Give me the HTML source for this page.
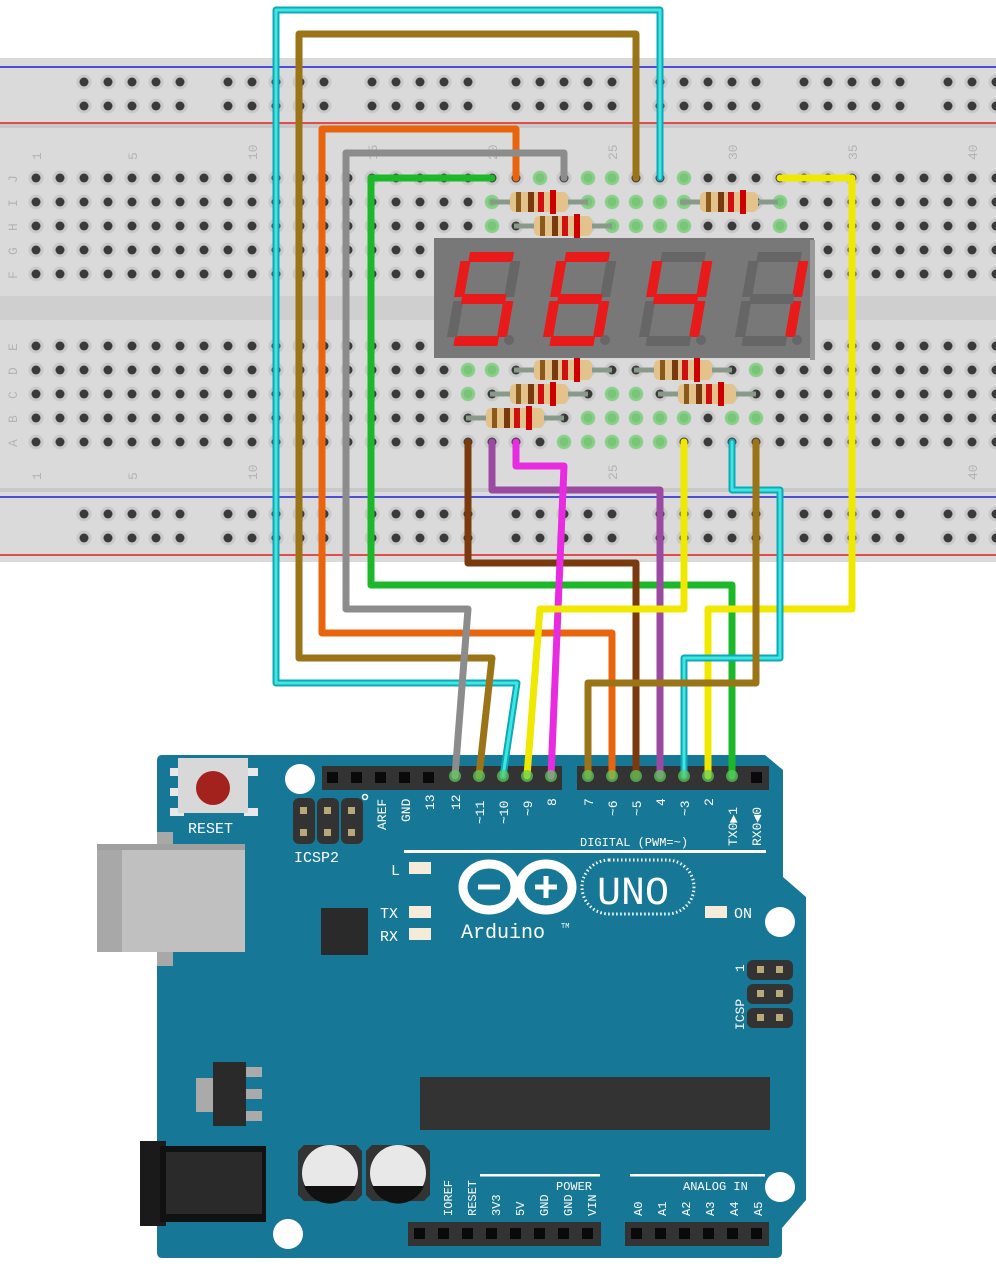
<!DOCTYPE html>
<html><head><meta charset="utf-8"><style>
html,body{margin:0;padding:0;background:#fff;}
svg{display:block;}
text{font-family:"Liberation Mono","DejaVu Sans Mono",monospace;}
</style></head><body>
<svg width="996" height="1280" viewBox="0 0 996 1280" xmlns="http://www.w3.org/2000/svg">
<defs>
<pattern id="mh" x="24" y="166" width="24" height="24" patternUnits="userSpaceOnUse">
<circle cx="12" cy="12" r="7.5" fill="#c9c9c9"/><circle cx="12" cy="12" r="4.5" fill="#3a3a3a"/>
</pattern>
<g id="rg">
<g fill="#c9c9c9"><circle cx="12" cy="12" r="7.5"/><circle cx="36" cy="12" r="7.5"/><circle cx="60" cy="12" r="7.5"/><circle cx="84" cy="12" r="7.5"/><circle cx="108" cy="12" r="7.5"/>
<circle cx="12" cy="36" r="7.5"/><circle cx="36" cy="36" r="7.5"/><circle cx="60" cy="36" r="7.5"/><circle cx="84" cy="36" r="7.5"/><circle cx="108" cy="36" r="7.5"/></g>
<g fill="#3a3a3a"><circle cx="12" cy="12" r="4.5"/><circle cx="36" cy="12" r="4.5"/><circle cx="60" cy="12" r="4.5"/><circle cx="84" cy="12" r="4.5"/><circle cx="108" cy="12" r="4.5"/>
<circle cx="12" cy="36" r="4.5"/><circle cx="36" cy="36" r="4.5"/><circle cx="60" cy="36" r="4.5"/><circle cx="84" cy="36" r="4.5"/><circle cx="108" cy="36" r="4.5"/></g>
</g>
<pattern id="rh" x="72" y="70" width="144" height="48" patternUnits="userSpaceOnUse"><use href="#rg"/></pattern>
<pattern id="rh2" x="72" y="502" width="144" height="48" patternUnits="userSpaceOnUse"><use href="#rg"/></pattern>
<g id="res">
<rect x="0" y="-2.5" width="98" height="5" fill="#8a9a8a"/>
<rect x="20" y="-10" width="58" height="20" rx="5" fill="#e3c28c"/>
<rect x="26" y="-10" width="5" height="20" fill="#8a5a1a"/>
<rect x="38" y="-10" width="6" height="20" fill="#7a3a10"/>
<rect x="48" y="-10" width="6" height="20" fill="#d01010"/>
<rect x="60" y="-12" width="6" height="24" fill="#c00"/>
</g>
</defs>

<rect x="0" y="58" width="996" height="504" fill="#dadada"/>
<rect x="0" y="124" width="996" height="4" fill="#c8c8c8"/>
<rect x="0" y="296" width="996" height="24" fill="#cfcfcf"/>
<rect x="0" y="488" width="996" height="4" fill="#c8c8c8"/>
<line x1="0" y1="67" x2="996" y2="67" stroke="#2020d0" stroke-width="1.5"/>
<line x1="0" y1="123" x2="996" y2="123" stroke="#e02020" stroke-width="1.5"/>
<line x1="0" y1="497" x2="996" y2="497" stroke="#2020d0" stroke-width="1.5"/>
<line x1="0" y1="555" x2="996" y2="555" stroke="#e02020" stroke-width="1.5"/>
<rect x="72" y="70" width="924" height="48" fill="url(#rh)"/>
<rect x="72" y="502" width="924" height="48" fill="url(#rh2)"/>
<rect x="24" y="166" width="972" height="120" fill="url(#mh)"/>
<rect x="24" y="334" width="972" height="120" fill="url(#mh)"/>
<g fill="#b4b4b4" font-size="13" font-family="Liberation Sans,sans-serif">
<text transform="translate(41,160) rotate(-90)">1</text><text transform="translate(137,160) rotate(-90)">5</text>
<text transform="translate(257,160) rotate(-90)">10</text><text transform="translate(377,160) rotate(-90)">15</text>
<text transform="translate(497,160) rotate(-90)">20</text><text transform="translate(617,160) rotate(-90)">25</text>
<text transform="translate(737,160) rotate(-90)">30</text><text transform="translate(857,160) rotate(-90)">35</text>
<text transform="translate(977,160) rotate(-90)">40</text>
<text transform="translate(41,480) rotate(-90)">1</text><text transform="translate(137,480) rotate(-90)">5</text>
<text transform="translate(257,480) rotate(-90)">10</text><text transform="translate(617,480) rotate(-90)">25</text>
<text transform="translate(977,480) rotate(-90)">40</text>
<text transform="translate(17,183) rotate(-90)">J</text><text transform="translate(17,207) rotate(-90)">I</text>
<text transform="translate(17,231) rotate(-90)">H</text><text transform="translate(17,255) rotate(-90)">G</text>
<text transform="translate(17,279) rotate(-90)">F</text><text transform="translate(17,351) rotate(-90)">E</text>
<text transform="translate(17,375) rotate(-90)">D</text><text transform="translate(17,399) rotate(-90)">C</text>
<text transform="translate(17,423) rotate(-90)">B</text><text transform="translate(17,447) rotate(-90)">A</text>
</g>
<g fill="#7fd37f" opacity="0.9">
<circle cx="492" cy="202" r="7"/><circle cx="588" cy="202" r="7"/><circle cx="612" cy="202" r="7"/><circle cx="636" cy="202" r="7"/><circle cx="660" cy="202" r="7"/><circle cx="684" cy="202" r="7"/><circle cx="780" cy="202" r="7"/>
<circle cx="492" cy="226" r="7"/><circle cx="612" cy="226" r="7"/><circle cx="636" cy="226" r="7"/><circle cx="660" cy="226" r="7"/><circle cx="684" cy="226" r="7"/><circle cx="780" cy="226" r="7"/>
<circle cx="468" cy="370" r="7"/><circle cx="492" cy="370" r="7"/><circle cx="756" cy="370" r="7"/>
<circle cx="468" cy="394" r="7"/><circle cx="612" cy="394" r="7"/><circle cx="636" cy="394" r="7"/>
<circle cx="588" cy="418" r="7"/><circle cx="612" cy="418" r="7"/><circle cx="636" cy="418" r="7"/><circle cx="660" cy="418" r="7"/><circle cx="684" cy="418" r="7"/><circle cx="732" cy="418" r="7"/><circle cx="756" cy="418" r="7"/>
<circle cx="564" cy="442" r="7"/><circle cx="588" cy="442" r="7"/><circle cx="612" cy="442" r="7"/><circle cx="636" cy="442" r="7"/><circle cx="660" cy="442" r="7"/>
<circle cx="540" cy="178" r="7"/><circle cx="588" cy="178" r="7"/><circle cx="612" cy="178" r="7"/><circle cx="684" cy="178" r="7"/>
</g>
<use href="#res" x="490" y="202"/><use href="#res" x="680" y="202"/><use href="#res" x="514" y="226"/>
<use href="#res" x="514" y="370"/><use href="#res" x="634" y="370"/>
<use href="#res" x="490" y="394"/><use href="#res" x="658" y="394"/>
<use href="#res" x="466" y="418"/>
<rect x="434" y="238" width="380" height="120" fill="#787878"/>
<rect x="810" y="240" width="5" height="120" fill="#999"/>
<g transform="translate(462,252) skewX(-10)">
<rect x="8" y="0" width="44" height="10" fill="#e81a1a"/><rect x="50" y="9" width="10" height="36" fill="#666"/><rect x="50" y="49" width="10" height="36" fill="#e81a1a"/><rect x="8" y="84" width="44" height="10" fill="#e81a1a"/><rect x="0" y="49" width="10" height="36" fill="#666"/><rect x="0" y="9" width="10" height="36" fill="#e81a1a"/><rect x="8" y="42" width="44" height="10" fill="#e81a1a"/></g>
<g transform="translate(558,252) skewX(-10)">
<rect x="8" y="0" width="44" height="10" fill="#e81a1a"/><rect x="50" y="9" width="10" height="36" fill="#666"/><rect x="50" y="49" width="10" height="36" fill="#e81a1a"/><rect x="8" y="84" width="44" height="10" fill="#e81a1a"/><rect x="0" y="49" width="10" height="36" fill="#e81a1a"/><rect x="0" y="9" width="10" height="36" fill="#e81a1a"/><rect x="8" y="42" width="44" height="10" fill="#e81a1a"/></g>
<g transform="translate(654,252) skewX(-10)">
<rect x="8" y="0" width="44" height="10" fill="#666"/><rect x="50" y="9" width="10" height="36" fill="#e81a1a"/><rect x="50" y="49" width="10" height="36" fill="#e81a1a"/><rect x="8" y="84" width="44" height="10" fill="#666"/><rect x="0" y="49" width="10" height="36" fill="#666"/><rect x="0" y="9" width="10" height="36" fill="#e81a1a"/><rect x="8" y="42" width="44" height="10" fill="#e81a1a"/></g>
<g transform="translate(750,252) skewX(-10)">
<rect x="8" y="0" width="44" height="10" fill="#666"/><rect x="50" y="9" width="10" height="36" fill="#e81a1a"/><rect x="50" y="49" width="10" height="36" fill="#e81a1a"/><rect x="8" y="84" width="44" height="10" fill="#666"/><rect x="0" y="49" width="10" height="36" fill="#666"/><rect x="0" y="9" width="10" height="36" fill="#666"/><rect x="8" y="42" width="44" height="10" fill="#666"/></g>
<g fill="#666"><circle cx="509" cy="340" r="5"/><circle cx="605" cy="340" r="5"/><circle cx="701" cy="340" r="5"/><circle cx="797" cy="340" r="5"/></g>

<path d="M162,755 L765,755 L783,770 L783,877 L806,897 L806,1200 L782,1228 L782,1252 Q782,1258 776,1258 L162,1258 Q157,1258 157,1252 L157,761 Q157,755 162,755 Z" fill="#167896"/>
<rect x="170" y="768" width="14" height="8" fill="#e8e8e8"/><rect x="170" y="788" width="14" height="8" fill="#e8e8e8"/><rect x="170" y="808" width="14" height="8" fill="#e8e8e8"/>
<rect x="244" y="768" width="14" height="8" fill="#e8e8e8"/><rect x="244" y="808" width="14" height="8" fill="#e8e8e8"/>
<rect x="178" y="758" width="70" height="55" fill="#d8d8d8"/>
<circle cx="213" cy="788" r="17" fill="#a3221e"/>
<text x="188" y="833" fill="#fff" font-size="15">RESET</text>
<rect x="157" y="832" width="16" height="14" fill="#a8a8a8"/><rect x="157" y="952" width="16" height="14" fill="#a8a8a8"/>
<rect x="97" y="844" width="148" height="108" fill="#c0c0c0"/>
<rect x="97" y="844" width="25" height="108" fill="#a8a8a8"/>
<rect x="97" y="844" width="148" height="6" fill="#a0a0a0"/>
<g fill="#333"><rect x="293" y="798" width="22" height="46" rx="6"/><rect x="317" y="798" width="22" height="46" rx="6"/><rect x="341" y="798" width="22" height="46" rx="6"/></g>
<g fill="#b8a97a"><rect x="300" y="807" width="7" height="7"/><rect x="324" y="807" width="7" height="7"/><rect x="348" y="807" width="7" height="7"/><rect x="300" y="829" width="7" height="7"/><rect x="324" y="829" width="7" height="7"/><rect x="348" y="829" width="7" height="7"/></g>
<circle cx="365" cy="797" r="2.5" fill="none" stroke="#fff" stroke-width="1.5"/>
<text x="294" y="862" fill="#fff" font-size="15">ICSP2</text>
<g fill="#fff"><circle cx="300" cy="779" r="15"/><circle cx="780" cy="922" r="15"/><circle cx="780" cy="1187" r="15"/><circle cx="288" cy="1234" r="15"/></g>
<rect x="322" y="766" width="240" height="24" fill="#333"/>
<rect x="577" y="766" width="192" height="24" fill="#333"/>
<g fill="#0a0a0a">
<rect x="327" y="772" width="11" height="11"/><rect x="351" y="772" width="11" height="11"/><rect x="375" y="772" width="11" height="11"/><rect x="399" y="772" width="11" height="11"/><rect x="423" y="772" width="11" height="11"/>
<rect x="751" y="772" width="11" height="11"/>
</g>
<g fill="#fff" font-size="13">
<text transform="translate(386,830) rotate(-90)">AREF</text>
<text transform="translate(410,822) rotate(-90)">GND</text>
<text transform="translate(434,810) rotate(-90)">13</text>
<text transform="translate(460,810) rotate(-90)">12</text>
<text transform="translate(484,824) rotate(-90)">~11</text>
<text transform="translate(508,824) rotate(-90)">~10</text>
<text transform="translate(532,816) rotate(-90)">~9</text>
<text transform="translate(556,806) rotate(-90)">8</text>
<text transform="translate(593,806) rotate(-90)">7</text>
<text transform="translate(617,816) rotate(-90)">~6</text>
<text transform="translate(641,816) rotate(-90)">~5</text>
<text transform="translate(665,806) rotate(-90)">4</text>
<text transform="translate(689,816) rotate(-90)">~3</text>
<text transform="translate(713,806) rotate(-90)">2</text>
<text transform="translate(737,846) rotate(-90)">TX0▶1</text>
<text transform="translate(761,846) rotate(-90)">RX0◀0</text>
<text x="580" y="846" font-size="12">DIGITAL (PWM=~)</text>
</g>
<rect x="404" y="850" width="362" height="3" fill="#fff"/>
<g fill="#f4ecd8"><rect x="409" y="862" width="22" height="12"/><rect x="409" y="906" width="22" height="12"/><rect x="409" y="928" width="22" height="12"/><rect x="705" y="906" width="22" height="12"/></g>
<g fill="#fff" font-size="15"><text x="391" y="875">L</text><text x="380" y="918">TX</text><text x="380" y="941">RX</text><text x="734" y="918">ON</text></g>
<rect x="321" y="908" width="47" height="47" fill="#2a2a2a"/>
<g fill="none" stroke="#fff" stroke-width="9">
<ellipse cx="489" cy="887" rx="26" ry="23"/><ellipse cx="546" cy="887" rx="26" ry="23"/>
</g>
<g stroke="#fff" stroke-width="5"><line x1="478" y1="887" x2="500" y2="887"/><line x1="535" y1="887" x2="557" y2="887"/><line x1="546" y1="876" x2="546" y2="898"/></g>
<rect x="582" y="860" width="112" height="54" rx="27" fill="none" stroke="#fff" stroke-width="3" stroke-dasharray="1.5 2.5"/>
<text x="597" y="904" fill="#fff" font-size="40" font-family="Liberation Sans,sans-serif">UNO</text>
<text x="461" y="938" fill="#fff" font-size="20">Arduino</text>
<text x="561" y="928" fill="#fff" font-size="7">TM</text>
<g fill="#333"><rect x="747" y="960" width="46" height="20" rx="6"/><rect x="747" y="984" width="46" height="20" rx="6"/><rect x="747" y="1008" width="46" height="20" rx="6"/></g>
<g fill="#b8a97a"><rect x="757" y="966" width="7" height="7"/><rect x="776" y="966" width="7" height="7"/><rect x="757" y="990" width="7" height="7"/><rect x="776" y="990" width="7" height="7"/><rect x="757" y="1014" width="7" height="7"/><rect x="776" y="1014" width="7" height="7"/></g>
<g fill="#fff" font-size="13"><text transform="translate(744,972) rotate(-90)">1</text><text transform="translate(744,1030) rotate(-90)">ICSP</text></g>
<rect x="196" y="1078" width="20" height="34" fill="#aaa"/>
<rect x="244" y="1067" width="18" height="10" fill="#aaa"/><rect x="244" y="1089" width="18" height="10" fill="#aaa"/><rect x="244" y="1111" width="18" height="10" fill="#aaa"/>
<rect x="213" y="1062" width="33" height="64" fill="#2a2a2a"/>
<rect x="420" y="1077" width="350" height="53" fill="#333"/>
<rect x="140" y="1141" width="26" height="85" fill="#1a1a1a"/>
<rect x="160" y="1146" width="106" height="76" fill="#111"/>
<rect x="166" y="1152" width="96" height="62" fill="#2a2a2a"/>
<path d="M304,1145 L356,1145 L362,1151 L362,1195 L356,1201 L304,1201 L298,1195 L298,1151 Z" fill="#333"/>
<circle cx="330" cy="1173" r="28" fill="#e8e8e8"/>
<path d="M304,1186 A28,28 0 0 0 356,1186 Z" fill="#111"/>
<path d="M372,1145 L424,1145 L430,1151 L430,1195 L424,1201 L372,1201 L366,1195 L366,1151 Z" fill="#333"/>
<circle cx="398" cy="1173" r="28" fill="#e8e8e8"/>
<path d="M372,1186 A28,28 0 0 0 424,1186 Z" fill="#111"/>
<rect x="480" y="1174" width="120" height="2.5" fill="#fff"/>
<rect x="630" y="1174" width="135" height="2.5" fill="#fff"/>
<g fill="#fff" font-size="12">
<text x="556" y="1190">POWER</text><text x="683" y="1190">ANALOG IN</text>
<text transform="translate(452,1216) rotate(-90)">IOREF</text>
<text transform="translate(476,1216) rotate(-90)">RESET</text>
<text transform="translate(500,1216) rotate(-90)">3V3</text>
<text transform="translate(524,1216) rotate(-90)">5V</text>
<text transform="translate(548,1216) rotate(-90)">GND</text>
<text transform="translate(572,1216) rotate(-90)">GND</text>
<text transform="translate(596,1216) rotate(-90)">VIN</text>
<text transform="translate(642,1216) rotate(-90)">A0</text>
<text transform="translate(666,1216) rotate(-90)">A1</text>
<text transform="translate(690,1216) rotate(-90)">A2</text>
<text transform="translate(714,1216) rotate(-90)">A3</text>
<text transform="translate(738,1216) rotate(-90)">A4</text>
<text transform="translate(762,1216) rotate(-90)">A5</text>
</g>
<rect x="408" y="1222" width="193" height="24" fill="#333"/>
<rect x="625" y="1222" width="144" height="24" fill="#333"/>
<g fill="#0a0a0a">
<rect x="414" y="1228" width="11" height="11"/><rect x="438" y="1228" width="11" height="11"/><rect x="462" y="1228" width="11" height="11"/><rect x="486" y="1228" width="11" height="11"/><rect x="510" y="1228" width="11" height="11"/><rect x="534" y="1228" width="11" height="11"/><rect x="558" y="1228" width="11" height="11"/><rect x="582" y="1228" width="11" height="11"/>
<rect x="631" y="1228" width="11" height="11"/><rect x="655" y="1228" width="11" height="11"/><rect x="679" y="1228" width="11" height="11"/><rect x="703" y="1228" width="11" height="11"/><rect x="727" y="1228" width="11" height="11"/><rect x="751" y="1228" width="11" height="11"/>
</g>

<g fill="none" stroke-width="7" stroke-linejoin="round" stroke-linecap="round">
<polyline points="660,178 660,10 276,10 276,683 517,683 503,776" stroke="#0fa8b8"/>
<polyline points="660,178 660,10 276,10 276,683 517,683 503,776" stroke="#3ee8e0" stroke-width="3"/>
<polyline points="636,178 636,34 299,34 299,658 492,658 479,776" stroke="#9b7418"/>
<polyline points="516,178 516,129 322,129 322,633 612,633 612,776" stroke="#e8650e"/>
<polyline points="564,178 564,153 346,153 346,609 468,609 455,776" stroke="#8c8c8c"/>
<polyline points="492,178 371,178 371,585 732,585 732,776" stroke="#1cb82a"/>
<polyline points="780,178 852,178 852,609 708,609 708,776" stroke="#f0e800"/>
<polyline points="468,442 468,563 636,563 636,776" stroke="#7a3a0e"/>
<polyline points="492,442 492,490 660,490 660,776" stroke="#9a4aa0"/>
<polyline points="516,442 516,466 564,466 551,776" stroke="#e82ae0"/>
<polyline points="684,442 684,609 540,609 527,776" stroke="#f0e800"/>
<polyline points="732,442 732,490 780,490 780,658 684,658 684,776" stroke="#0fa8b8"/>
<polyline points="732,442 732,490 780,490 780,658 684,658 684,776" stroke="#3ee8e0" stroke-width="3"/>
<polyline points="756,442 756,683 588,683 588,776" stroke="#9b7418"/>
</g>
<g fill="#5fcf5f" opacity="0.7">
<circle cx="455" cy="776" r="6"/><circle cx="479" cy="776" r="6"/><circle cx="503" cy="776" r="6"/><circle cx="527" cy="776" r="6"/><circle cx="551" cy="776" r="6"/>
<circle cx="588" cy="776" r="6"/><circle cx="612" cy="776" r="6"/><circle cx="636" cy="776" r="6"/><circle cx="660" cy="776" r="6"/><circle cx="684" cy="776" r="6"/><circle cx="708" cy="776" r="6"/><circle cx="732" cy="776" r="6"/>
</g>
</svg>
</body></html>
